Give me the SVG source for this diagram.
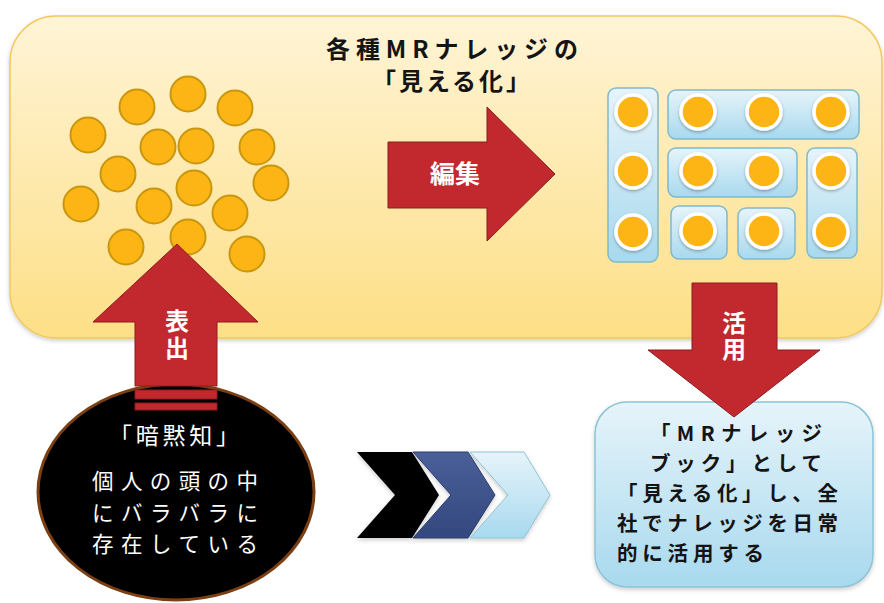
<svg xmlns="http://www.w3.org/2000/svg" width="884" height="603" viewBox="0 0 884 603">
<defs>
  <linearGradient id="gYellow" x1="0" y1="0" x2="0" y2="1">
    <stop offset="0" stop-color="#FFF4D6"/>
    <stop offset="1" stop-color="#FDDF86"/>
  </linearGradient>
  <linearGradient id="gBlue" x1="0" y1="0" x2="0" y2="1">
    <stop offset="0" stop-color="#E6F4FA"/>
    <stop offset="1" stop-color="#A8D9EE"/>
  </linearGradient>
  <linearGradient id="gNavy" x1="0" y1="0" x2="0" y2="1">
    <stop offset="0" stop-color="#4A5F98"/>
    <stop offset="1" stop-color="#34487F"/>
  </linearGradient>
  <filter id="sh" x="-20%" y="-20%" width="140%" height="140%">
    <feDropShadow dx="0" dy="1.5" stdDeviation="1.5" flood-color="#000" flood-opacity="0.3"/>
  </filter>
  <filter id="shSoft" x="-10%" y="-10%" width="120%" height="120%">
    <feDropShadow dx="0" dy="2" stdDeviation="2" flood-color="#000" flood-opacity="0.2"/>
  </filter>
</defs>
<style>
  .dot { fill: #FDB515; stroke: #C8970F; stroke-width: 2; }
  .tile { fill: url(#gBlue); stroke: #7FB9CB; stroke-width: 1.5; }
  .tdot { fill: #FDB515; stroke: #FFFFFF; stroke-width: 3.5; filter: url(#sh); }
  .arrow { fill: #C1292E; stroke: #8E1C20; stroke-width: 1; }
  .jp { font-family: "Noto Sans CJK JP", "Noto Sans", sans-serif; }
  .dark { fill: #141414; font-weight: bold; }
  .white { fill: #FFFFFF; }
  .vert { writing-mode: vertical-rl; }
</style>

<g id="knowledge-area">
  <rect x="10" y="16" width="872" height="322" rx="46" fill="url(#gYellow)" stroke="#F2C85C" stroke-width="1.5" filter="url(#shSoft)"/>
  <text class="jp dark" font-size="24" text-anchor="middle"><tspan x="452" y="58" textLength="252" lengthAdjust="spacing">各種MRナレッジの</tspan><tspan x="451" y="90" textLength="158" lengthAdjust="spacing">「見える化」</tspan></text>
</g>

<g id="scattered-knowledge">
  <circle class="dot" cx="137" cy="107" r="17.5"/>
  <circle class="dot" cx="188" cy="94" r="17.5"/>
  <circle class="dot" cx="235" cy="108" r="17.5"/>
  <circle class="dot" cx="88" cy="135" r="17.5"/>
  <circle class="dot" cx="158" cy="147" r="17.5"/>
  <circle class="dot" cx="196" cy="146" r="17.5"/>
  <circle class="dot" cx="257" cy="147" r="17.5"/>
  <circle class="dot" cx="118" cy="174" r="17.5"/>
  <circle class="dot" cx="194" cy="188" r="17.5"/>
  <circle class="dot" cx="271" cy="183" r="17.5"/>
  <circle class="dot" cx="81" cy="204" r="17.5"/>
  <circle class="dot" cx="154" cy="206" r="17.5"/>
  <circle class="dot" cx="230" cy="213" r="17.5"/>
  <circle class="dot" cx="126" cy="247" r="17.5"/>
  <circle class="dot" cx="188" cy="237" r="17.5"/>
  <circle class="dot" cx="247" cy="254" r="17.5"/>
</g>

<g id="organized-knowledge">
  <rect class="tile" x="608" y="88" width="50" height="174" rx="8"/>
  <rect class="tile" x="668" y="90" width="191" height="49" rx="8"/>
  <rect class="tile" x="668" y="148" width="129" height="49" rx="8"/>
  <rect class="tile" x="807" y="148" width="50" height="110" rx="8"/>
  <rect class="tile" x="671" y="206" width="56" height="53" rx="8"/>
  <rect class="tile" x="738" y="208" width="57" height="51" rx="8"/>
  <circle class="tdot" cx="633" cy="112" r="17"/>
  <circle class="tdot" cx="633" cy="171" r="17"/>
  <circle class="tdot" cx="633" cy="232" r="17"/>
  <circle class="tdot" cx="698" cy="112" r="17"/>
  <circle class="tdot" cx="764" cy="112" r="17"/>
  <circle class="tdot" cx="831" cy="112" r="17"/>
  <circle class="tdot" cx="698" cy="171" r="17"/>
  <circle class="tdot" cx="764" cy="171" r="17"/>
  <circle class="tdot" cx="831" cy="171" r="17"/>
  <circle class="tdot" cx="831" cy="232" r="17"/>
  <circle class="tdot" cx="698" cy="231" r="17"/>
  <circle class="tdot" cx="764" cy="231" r="17"/>
</g>

<g id="tacit-knowledge">
  <ellipse cx="176" cy="492" rx="138" ry="108" fill="#000000" stroke="#7B3F12" stroke-width="3"/>
  <text class="jp white" x="174" y="444" font-size="23" text-anchor="middle" textLength="130" lengthAdjust="spacing">「暗黙知」</text>
  <text class="jp white" font-size="21.5" text-anchor="middle"><tspan x="175" y="489" textLength="166" lengthAdjust="spacing">個人の頭の中</tspan><tspan x="175" y="520.5" textLength="166" lengthAdjust="spacing">にバラバラに</tspan><tspan x="175" y="552" textLength="166" lengthAdjust="spacing">存在している</tspan></text>
</g>

<g id="knowledge-book">
  <rect x="595" y="402" width="278" height="185" rx="32" fill="url(#gBlue)" stroke="#8CC4D6" stroke-width="1.5" filter="url(#shSoft)"/>
  <text class="jp dark" font-size="20.5"><tspan x="650" y="441" textLength="172" lengthAdjust="spacing">「MRナレッジ</tspan><tspan x="650" y="471" textLength="172" lengthAdjust="spacing">ブック」として</tspan><tspan x="617" y="501" textLength="221" lengthAdjust="spacing">「見える化」し、全</tspan><tspan x="617" y="531" textLength="221" lengthAdjust="spacing">社でナレッジを日常</tspan><tspan x="617" y="561" textLength="147" lengthAdjust="spacing">的に活用する</tspan></text>
</g>

<g id="connectors">
  <g id="arrow-express">
    <polygon class="arrow" points="177,244 258,322 217,322 217,386 135,386 135,322 93,322"/>
    <rect class="arrow" x="135" y="390" width="82" height="9"/>
    <rect class="arrow" x="135" y="403" width="82" height="7"/>
    <text class="jp white vert" x="177" y="336" font-size="24" font-weight="bold" text-anchor="middle" letter-spacing="3">表出</text>
  </g>
  <g id="arrow-edit">
    <polygon class="arrow" points="388,142 487,142 487,107 555,174 487,241 487,208 388,208"/>
    <text class="jp white" x="455" y="183" font-size="25" font-weight="bold" text-anchor="middle">編集</text>
  </g>
  <g id="arrow-use">
    <polygon class="arrow" points="692,283 777,283 777,350 820,350 734,417 648,350 692,350"/>
    <text class="jp white vert" x="734" y="337" font-size="24" font-weight="bold" text-anchor="middle" letter-spacing="2">活用</text>
  </g>
  <g id="chevrons" filter="url(#shSoft)">
    <polygon points="357,452 412,452 439,495 412,538 357,538 395,495" fill="#000000"/>
    <polygon points="413,452 468,452 495,495 468,538 413,538 451,495" fill="url(#gNavy)" stroke="#2C3C6C" stroke-width="1"/>
    <polygon points="470,452 524,452 550,495 524,538 470,538 508,495" fill="url(#gBlue)" stroke="#8CC4D6" stroke-width="1"/>
  </g>
</g>
</svg>
